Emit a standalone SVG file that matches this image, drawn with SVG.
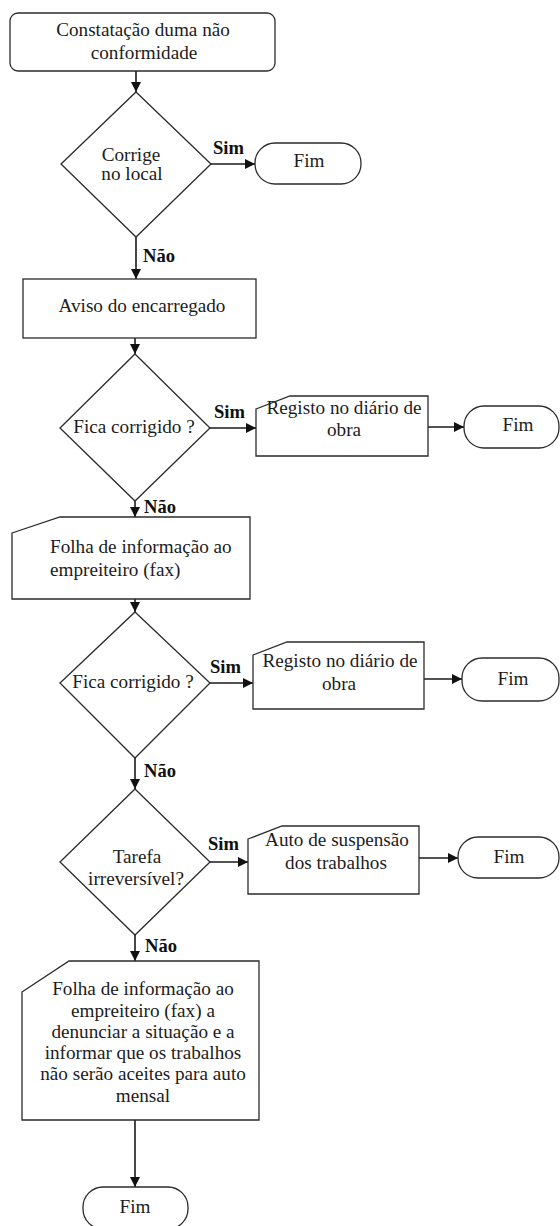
<svg xmlns="http://www.w3.org/2000/svg" width="560" height="1226" viewBox="0 0 560 1226">
  <style>
    .shape { fill: #ffffff; stroke: #2b2b2b; stroke-width: 1.3; }
    .line { fill: none; stroke: #1a1a1a; stroke-width: 1.6; marker-end: url(#arrow); }
    text { font-family: "Liberation Serif", "Times New Roman", serif; font-size: 19.2px; fill: #1c1c1c; }
    .c { text-anchor: middle; }
    .lbl { font-weight: bold; font-size: 18.6px; fill: #111111; }
  </style>
  <defs>
    <marker id="arrow" viewBox="0 0 10 10" refX="10" refY="5" markerWidth="11" markerHeight="10" markerUnits="userSpaceOnUse" orient="auto">
      <path d="M0,0 L10,5 L0,10 Z" fill="#111111"/>
    </marker>
  </defs>
  <rect width="560" height="1226" fill="#ffffff"/>

  <!-- connectors -->
  <g id="connectors">
    <path class="line" d="M136,71 V92"/>
    <path class="line" d="M211,164 H255"/>
    <path class="line" d="M136,237 V279"/>
    <path class="line" d="M135,338 V354"/>
    <path class="line" d="M210,428 H256"/>
    <path class="line" d="M428,427 H464"/>
    <path class="line" d="M135,501 V517"/>
    <path class="line" d="M135,599 V612"/>
    <path class="line" d="M210,683 H253"/>
    <path class="line" d="M424,679 H462"/>
    <path class="line" d="M135,758 V789"/>
    <path class="line" d="M210,862 H248"/>
    <path class="line" d="M419,858 H458"/>
    <path class="line" d="M135,935 V961"/>
    <path class="line" d="M135,1120 V1187"/>
    <text class="lbl" x="213" y="154">Sim</text>
    <text class="lbl" x="143" y="262">Não</text>
    <text class="lbl" x="214" y="418">Sim</text>
    <text class="lbl" x="144" y="513">Não</text>
    <text class="lbl" x="210" y="673">Sim</text>
    <text class="lbl" x="144" y="777">Não</text>
    <text class="lbl" x="208" y="850">Sim</text>
    <text class="lbl" x="145" y="952">Não</text>
  </g>

  <!-- start -->
  <g id="start">
    <rect class="shape" x="10" y="13" width="265" height="58" rx="8"/>
    <text class="c" x="143" y="36">Constatação duma não</text>
    <text class="c" x="144" y="59">conformidade</text>
  </g>

  <g id="dec-corrige-local">
    <polygon class="shape" points="136,92 211,164 136,237 61,164"/>
    <text class="c" x="131" y="161">Corrige</text>
    <text class="c" x="132" y="180">no local</text>
  </g>

  <g id="fim-1">
    <rect class="shape" x="255" y="143" width="106" height="41" rx="20"/>
    <text class="c" x="309" y="167">Fim</text>
  </g>

  <g id="aviso-encarregado">
    <rect class="shape" x="23" y="279" width="233" height="59"/>
    <text class="c" x="142" y="312">Aviso do encarregado</text>
  </g>

  <g id="dec-corrigido-1">
    <polygon class="shape" points="135,354 210,428 135,501 60,428"/>
    <text class="c" x="134" y="433">Fica corrigido ?</text>
  </g>

  <g id="registo-1">
    <path class="shape" d="M256,409 L290,396 H428 V456 H256 Z"/>
    <text class="c" x="344" y="414">Registo no diário de</text>
    <text class="c" x="344" y="436">obra</text>
  </g>

  <g id="fim-2">
    <rect class="shape" x="464" y="406" width="95" height="42" rx="20"/>
    <text class="c" x="518" y="431">Fim</text>
  </g>

  <g id="folha-fax">
    <path class="shape" d="M12,533 L60,517 H250 V599 H12 Z"/>
    <text x="50" y="553">Folha de informação ao</text>
    <text x="50" y="576">empreiteiro (fax)</text>
  </g>

  <g id="dec-corrigido-2">
    <polygon class="shape" points="135,612 210,683 135,758 60,683"/>
    <text class="c" x="133" y="688">Fica corrigido ?</text>
  </g>

  <g id="registo-2">
    <path class="shape" d="M253,655 L287,642 H424 V709 H253 Z"/>
    <text class="c" x="340" y="667">Registo no diário de</text>
    <text class="c" x="339" y="690">obra</text>
  </g>

  <g id="fim-3">
    <rect class="shape" x="462" y="658" width="97" height="43" rx="20"/>
    <text class="c" x="513" y="685">Fim</text>
  </g>

  <g id="dec-irreversivel">
    <polygon class="shape" points="135,789 210,862 135,935 60,862"/>
    <text class="c" x="137" y="863">Tarefa</text>
    <text class="c" x="136" y="885">irreversível?</text>
  </g>

  <g id="auto-suspensao">
    <path class="shape" d="M248,839 L282,826 H419 V894 H248 Z"/>
    <text class="c" x="337" y="846">Auto de suspensão</text>
    <text class="c" x="336" y="869">dos trabalhos</text>
  </g>

  <g id="fim-4">
    <rect class="shape" x="458" y="837" width="101" height="41" rx="20"/>
    <text class="c" x="509" y="863">Fim</text>
  </g>

  <g id="folha-denuncia">
    <path class="shape" d="M22,992 L69,961 H259 V1120 H22 Z"/>
    <text class="c" x="143" y="995">Folha de informação ao</text>
    <text class="c" x="143" y="1017">empreiteiro (fax) a</text>
    <text class="c" x="143" y="1038">denunciar a situação e a</text>
    <text class="c" x="143" y="1059">informar que os trabalhos</text>
    <text class="c" x="143" y="1080">não serão aceites para auto</text>
    <text class="c" x="143" y="1102">mensal</text>
  </g>

  <g id="fim-5">
    <rect class="shape" x="83" y="1187" width="105" height="42" rx="20"/>
    <text class="c" x="135" y="1213">Fim</text>
  </g>
</svg>
